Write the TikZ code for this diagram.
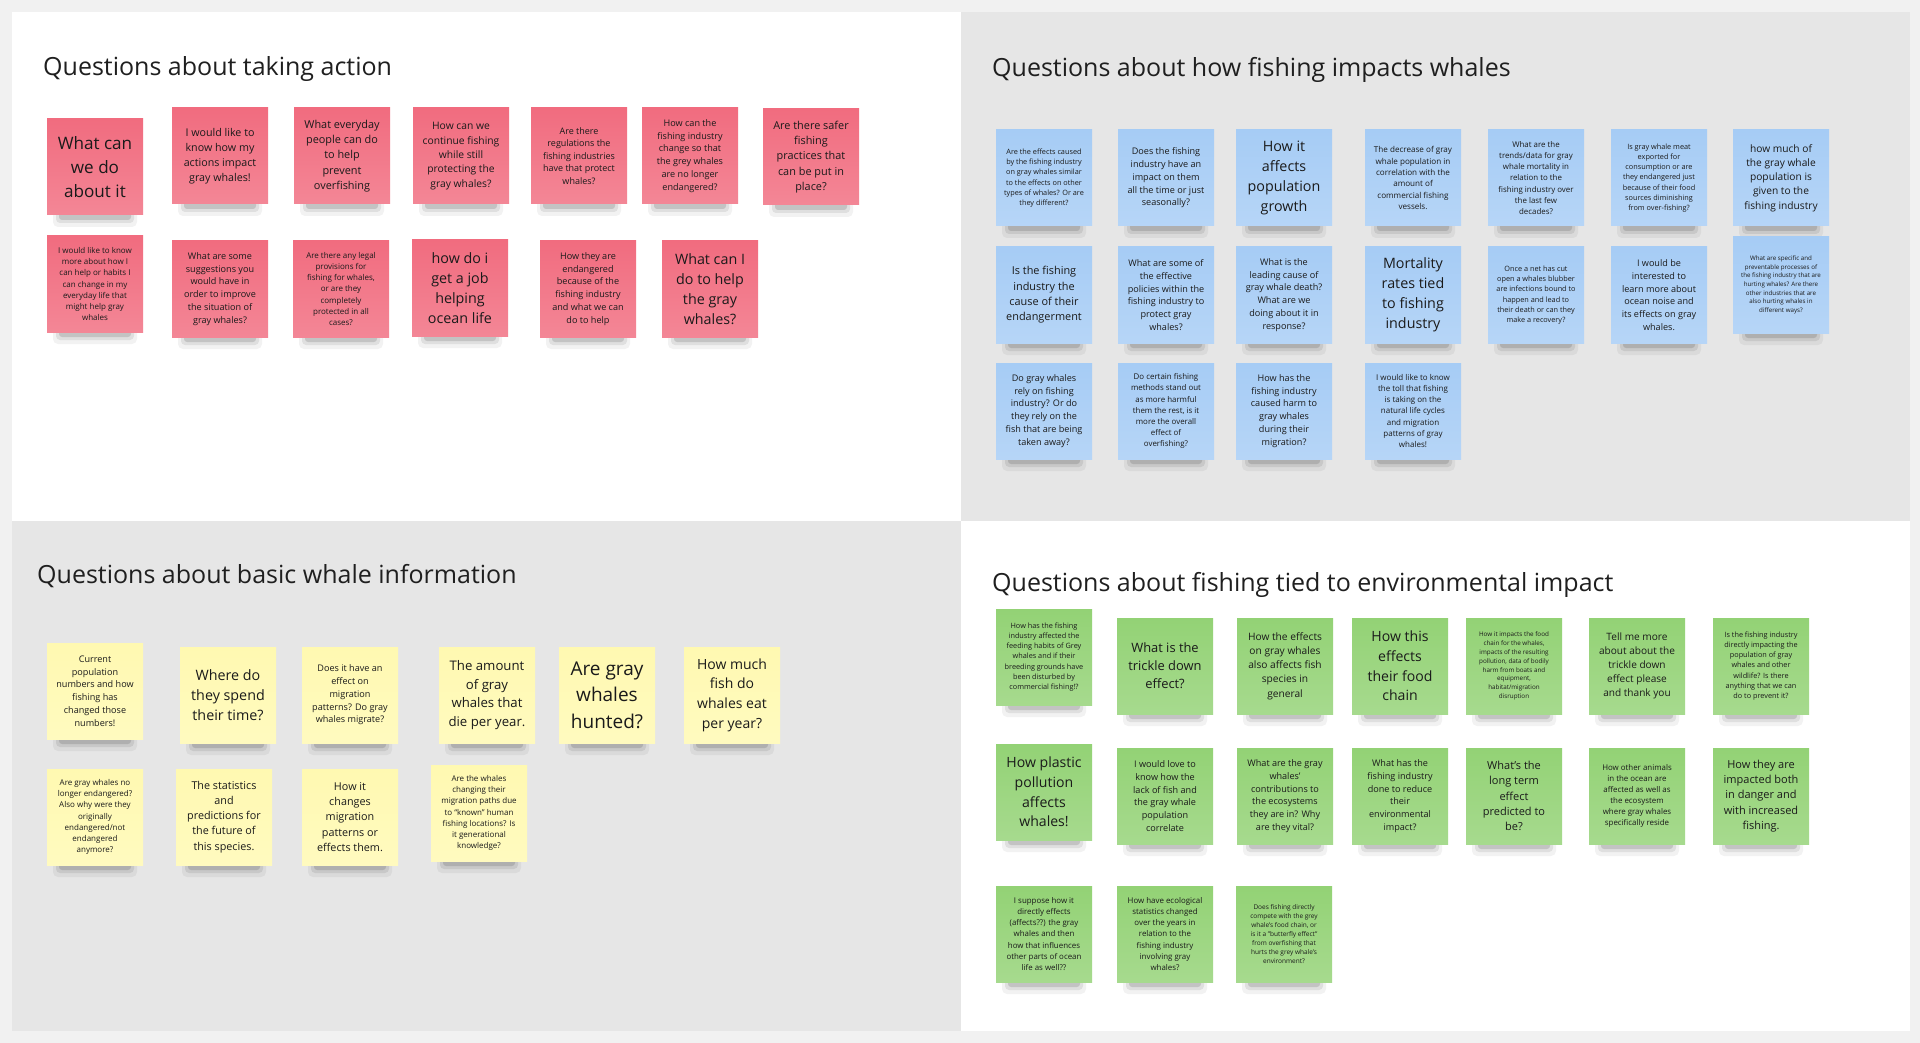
\documentclass[tikz,border=0pt]{standalone}
\usepackage{fontspec}
\setmainfont{Open Sans}
\definecolor{outerbg}{HTML}{F1F1F1}
\definecolor{quadgray}{HTML}{E6E6E6}
\definecolor{redn}{HTML}{F16C7F}
\definecolor{bluen}{HTML}{A6CCF5}
\definecolor{yellown}{HTML}{FFF9B1}
\definecolor{greenn}{HTML}{93D275}
\definecolor{notetext}{HTML}{1A1A1A}
\definecolor{titletext}{HTML}{1F1F1F}
\tikzset{
  note/.style={minimum width=96pt, minimum height=96pt, inner sep=2pt, align=center, text=notetext},
  title/.style={font=\fontsize{25}{34}\selectfont, anchor=base west, inner sep=0pt, text=titletext}
}
\newcommand{\mknote}[6]{%
  \fill[black,opacity=0.05,rounded corners=5pt] (#2+6,#3+78) rectangle (#2+90,#3+108);
  \fill[black,opacity=0.08,rounded corners=4pt] (#2+9,#3+84) rectangle (#2+87,#3+104);
  \fill[black,opacity=0.12,rounded corners=3pt] (#2+12,#3+88) rectangle (#2+84,#3+101);
  \node[note, top color=#4, bottom color=#4!82!white, font=\fontsize{#5}{\fpeval{1.4*#5}}\selectfont] (#1) at (#2+48,#3+48) {#6};
}
\begin{document}
\begin{tikzpicture}[x=1pt,y=-1pt]
\useasboundingbox (0,0) rectangle (1920,1043);
% background and quadrants
\fill[outerbg] (0,0) rectangle (1920,1043);
\fill[white] (12,12) rectangle (961,521);
\fill[quadgray] (961,12) rectangle (1910,521);
\fill[quadgray] (12,521) rectangle (961,1031);
\fill[white] (961,521) rectangle (1910,1031);
% titles
\node[title] (t1) at (43,76) {Questions about taking action};
\node[title] (t2) at (992,77) {Questions about how fishing impacts whales};
\node[title] (t3) at (37,583) {Questions about basic whale information};
\node[title] (t4) at (992,591) {Questions about fishing tied to environmental impact};
% red notes
\mknote{r1}{47}{119}{redn}{17.1}{What can\\we do\\about it}
\mknote{r2}{172}{108}{redn}{10.7}{I would like to\\know how my\\actions impact\\gray whales!}
\mknote{r3}{294}{108}{redn}{10.9}{What everyday\\people can do\\to help\\prevent\\overfishing}
\mknote{r4}{413}{108}{redn}{10.3}{How can we\\continue fishing\\while still\\protecting the\\gray whales?}
\mknote{r5}{531}{108}{redn}{9.0}{Are there\\regulations the\\fishing industries\\have that protect\\whales?}
\mknote{r6}{642}{108}{redn}{9.1}{How can the\\fishing industry\\change so that\\the grey whales\\are no longer\\endangered?}
\mknote{r7}{763}{109}{redn}{10.9}{Are there safer\\fishing\\practices that\\can be put in\\place?}
\mknote{r8}{47}{236}{redn}{8.0}{I would like to know\\more about how I\\can help or habits I\\can change in my\\everyday life that\\might help gray\\whales}
\mknote{r9}{172}{241}{redn}{9.1}{What are some\\suggestions you\\would have in\\order to improve\\the situation of\\gray whales?}
\mknote{r10}{293}{241}{redn}{8.0}{Are there any legal\\provisions for\\fishing for whales,\\or are they\\completely\\protected in all\\cases?}
\mknote{r11}{412}{240}{redn}{14.3}{how do i\\get a job\\helping\\ocean life}
\mknote{r12}{540}{241}{redn}{9.1}{How they are\\endangered\\because of the\\fishing industry\\and what we can\\do to help}
\mknote{r13}{662}{241}{redn}{14.3}{What can I\\do to help\\the gray\\whales?}
% blue notes
\mknote{b1}{996}{130}{bluen}{7.3}{Are the effects caused\\by the fishing industry\\on gray whales similar\\to the effects on other\\types of whales? Or are\\they different?}
\mknote{b2}{1118}{130}{bluen}{9.1}{Does the fishing\\industry have an\\impact on them\\all the time or just\\seasonally?}
\mknote{b3}{1236}{130}{bluen}{14.3}{How it\\affects\\population\\growth}
\mknote{b4}{1365}{130}{bluen}{8.1}{The decrease of gray\\whale population in\\correlation with the\\amount of\\commercial fishing\\vessels.}
\mknote{b5}{1488}{130}{bluen}{7.9}{What are the\\trends/data for gray\\whale mortality in\\relation to the\\fishing industry over\\the last few\\decades?}
\mknote{b6}{1611}{130}{bluen}{7.3}{Is gray whale meat\\exported for\\consumption or are\\they endangered just\\because of their food\\sources diminishing\\from over-fishing?}
\mknote{b7}{1733}{130}{bluen}{10.2}{how much of\\the gray whale\\population is\\given to the\\fishing industry}
\mknote{b8}{996}{247}{bluen}{10.9}{Is the fishing\\industry the\\cause of their\\endangerment}
\mknote{b9}{1118}{247}{bluen}{9.1}{What are some of\\the effective\\policies within the\\fishing industry to\\protect gray\\whales?}
\mknote{b10}{1236}{247}{bluen}{9.1}{What is the\\leading cause of\\gray whale death?\\What are we\\doing about it in\\response?}
\mknote{b11}{1365}{247}{bluen}{14.3}{Mortality\\rates tied\\to fishing\\industry}
\mknote{b12}{1488}{247}{bluen}{7.3}{Once a net has cut\\open a whales blubber\\are infections bound to\\happen and lead to\\their death or can they\\make a recovery?}
\mknote{b13}{1611}{247}{bluen}{9.1}{I would be\\interested to\\learn more about\\ocean noise and\\its effects on gray\\whales.}
\mknote{b14}{1733}{237}{bluen}{6.2}{What are specific and\\preventable processes of\\the fishing industry that are\\hurting whales? Are there\\other industries that are\\also hurting whales in\\different ways?}
\mknote{b15}{996}{363}{bluen}{9.1}{Do gray whales\\rely on fishing\\industry? Or do\\they rely on the\\fish that are being\\taken away?}
\mknote{b16}{1118}{363}{bluen}{7.9}{Do certain fishing\\methods stand out\\as more harmful\\them the rest, is it\\more the overall\\effect of\\overfishing?}
\mknote{b17}{1236}{363}{bluen}{9.1}{How has the\\fishing industry\\caused harm to\\gray whales\\during their\\migration?}
\mknote{b18}{1365}{363}{bluen}{8.0}{I would like to know\\the toll that fishing\\is taking on the\\natural life cycles\\and migration\\patterns of gray\\whales!}
% yellow notes
\mknote{y1}{47}{643}{yellown}{9.1}{Current\\population\\numbers and how\\fishing has\\changed those\\numbers!}
\mknote{y2}{180}{647}{yellown}{14.3}{Where do\\they spend\\their time?}
\mknote{y3}{302}{647}{yellown}{9.1}{Does it have an\\effect on\\migration\\patterns? Do gray\\whales migrate?}
\mknote{y4}{439}{647}{yellown}{13.2}{The amount\\of gray\\whales that\\die per year.}
\mknote{y5}{559}{647}{yellown}{19.0}{Are gray\\whales\\hunted?}
\mknote{y6}{684}{647}{yellown}{14.0}{How much\\fish do\\whales eat\\per year?}
\mknote{y7}{47}{769}{yellown}{8.0}{Are gray whales no\\longer endangered?\\Also why were they\\originally\\endangered/not\\endangered\\anymore?}
\mknote{y8}{176}{769}{yellown}{10.8}{The statistics\\and\\predictions for\\the future of\\this species.}
\mknote{y9}{302}{769}{yellown}{10.8}{How it\\changes\\migration\\patterns or\\effects them.}
\mknote{y10}{431}{765}{yellown}{8.0}{Are the whales\\changing their\\migration paths due\\to “known” human\\fishing locations? Is\\it generational\\knowledge?}
% green notes
\mknote{g1}{996}{609}{greenn}{7.3}{How has the fishing\\industry affected the\\feeding habits of Grey\\whales and if their\\breeding grounds have\\been disturbed by\\commercial fishing!?}
\mknote{g2}{1117}{618}{greenn}{12.9}{What is the\\trickle down\\effect?}
\mknote{g3}{1237}{618}{greenn}{10.2}{How the effects\\on gray whales\\also affects fish\\species in\\general}
\mknote{g4}{1352}{618}{greenn}{14.1}{How this\\effects\\their food\\chain}
\mknote{g5}{1466}{618}{greenn}{6.3}{How it impacts the food\\chain for the whales,\\impacts of the resulting\\pollution, data of bodily\\harm from boats and\\equipment,\\habitat/migration\\disruption}
\mknote{g6}{1589}{618}{greenn}{10.1}{Tell me more\\about about the\\trickle down\\effect please\\and thank you}
\mknote{g7}{1713}{618}{greenn}{7.3}{Is the fishing industry\\directly impacting the\\population of gray\\whales and other\\wildlife? Is there\\anything that we can\\do to prevent it?}
\mknote{g8}{996}{744}{greenn}{14.1}{How plastic\\pollution\\affects\\whales!}
\mknote{g9}{1117}{748}{greenn}{9.1}{I would love to\\know how the\\lack of fish and\\the gray whale\\population\\correlate}
\mknote{g10}{1237}{748}{greenn}{9.1}{What are the gray\\whales’\\contributions to\\the ecosystems\\they are in? Why\\are they vital?}
\mknote{g11}{1352}{748}{greenn}{9.1}{What has the\\fishing industry\\done to reduce\\their\\environmental\\impact?}
\mknote{g12}{1466}{748}{greenn}{11.0}{What’s the\\long term\\effect\\predicted to\\be?}
\mknote{g13}{1589}{748}{greenn}{7.9}{How other animals\\in the ocean are\\affected as well as\\the ecosystem\\where gray whales\\specifically reside}
\mknote{g14}{1713}{748}{greenn}{11.0}{How they are\\impacted both\\in danger and\\with increased\\fishing.}
\mknote{g15}{996}{886}{greenn}{7.9}{I suppose how it\\directly effects\\(affects??) the gray\\whales and then\\how that influences\\other parts of ocean\\life as well??}
\mknote{g16}{1117}{886}{greenn}{7.9}{How have ecological\\statistics changed\\over the years in\\relation to the\\fishing industry\\involving gray\\whales?}
\mknote{g17}{1236}{886}{greenn}{6.5}{Does fishing directly\\compete with the grey\\whale's food chain, or\\is it a "butterfly effect"\\from overfishing that\\hurts the grey whale's\\environment?}
\end{tikzpicture}
\end{document}
